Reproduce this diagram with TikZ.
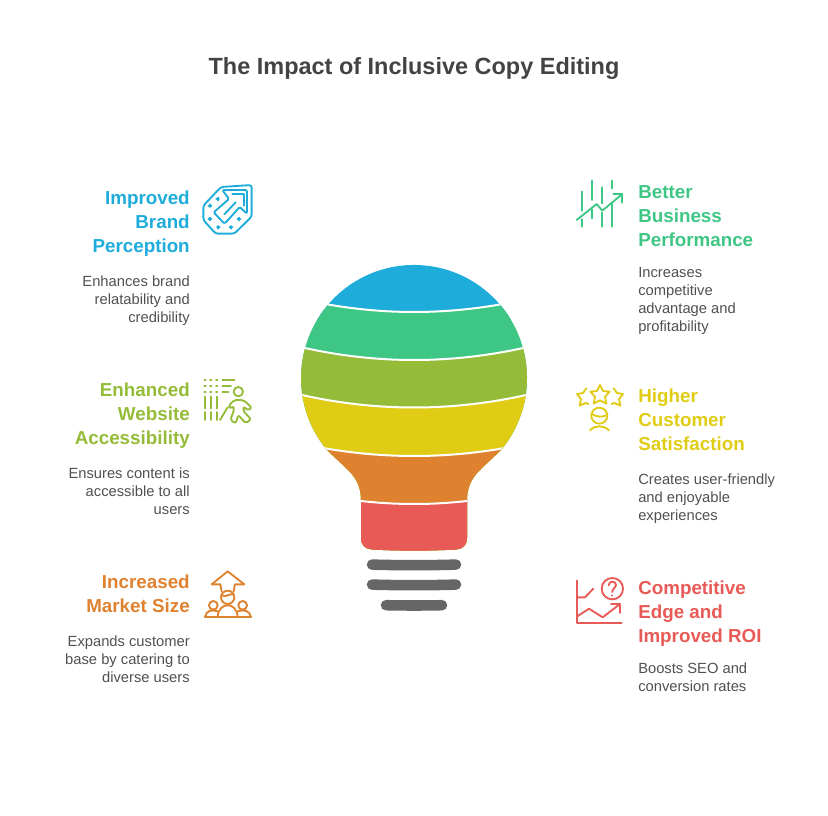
\documentclass[tikz,border=0pt]{standalone}
\usepackage{fontspec}
\setmainfont{Liberation Sans}
\definecolor{bulbblue}{RGB}{30, 172, 219}
\definecolor{bulbgreen}{RGB}{62, 198, 132}
\definecolor{bulbolive}{RGB}{148, 188, 56}
\definecolor{bulbyellow}{RGB}{224, 204, 20}
\definecolor{bulborange}{RGB}{223, 130, 48}
\definecolor{bulbred}{RGB}{232, 90, 86}
\definecolor{bulbgray}{RGB}{102, 102, 102}
\definecolor{titlegray}{RGB}{67, 67, 67}
\definecolor{descgray}{RGB}{80, 80, 80}
\tikzset{
  headleft/.style={anchor=north east, align=right, inner sep=0pt, font=\fontsize{14.1}{18}\bfseries\selectfont},
  headright/.style={anchor=north west, align=left, inner sep=0pt, font=\fontsize{14.1}{18}\bfseries\selectfont},
  descleft/.style={anchor=north east, align=right, inner sep=0pt, text=descgray, font=\fontsize{11.05}{13.5}\selectfont},
  descright/.style={anchor=north west, align=left, inner sep=0pt, text=descgray, font=\fontsize{11.05}{13.5}\selectfont},
  iconline/.style={line width=1.4pt, line cap=round, line join=round},
  bulbbar/.style={bulbgray, line width=7.9pt, line cap=round}
}
\begin{document}
\begin{tikzpicture}[x=0.75pt, y=-0.75pt]
\useasboundingbox (0,0) rectangle (828,816);
\node[text=titlegray, font=\fontsize{17.6}{22}\bfseries\selectfont] (title) at (414,68) {The Impact of Inclusive Copy Editing};

% bulb
\begin{scope}
\clip (325.8,448.6) .. controls (335,458) and (341,463) .. (349,471) .. controls (358,480) and (361,490) .. (361,500)
  -- (361,538) .. controls (361,545) and (365,549) .. (372,549.5) .. controls (400,551) and (428,551) .. (456,549.5)
  .. controls (463,549) and (467,545) .. (467,538) -- (467,500) .. controls (467,490) and (470,480) .. (479,471)
  .. controls (487,463) and (493,458) .. (502.2,448.6) arc[start angle=38.7, end angle=-218.7, radius=113];
\fill[bulbblue] (280,250) rectangle (550,320);
\foreach \bandcol/\hw/\yedge/\ymid in {bulbgreen/95/302.8/312, bulbolive/120/345.5/360, bulbyellow/122/392.7/407.5, bulborange/97/446.9/456, bulbred/58/500.4/504} {
  \pgfmathsetmacro{\yctrl}{\yedge+4/3*(\ymid-\yedge)}
  \fill[\bandcol] (414-\hw,\yedge) .. controls (414-\hw/3,\yctrl) and (414+\hw/3,\yctrl) .. (414+\hw,\yedge) -- (560,\yedge) -- (560,560) -- (270,560) -- (270,\yedge) -- cycle;
  \draw[white, line width=1.5pt] (414-\hw,\yedge) .. controls (414-\hw/3,\yctrl) and (414+\hw/3,\yctrl) .. (414+\hw,\yedge);
}
\end{scope}
\draw[bulbbar] (372,564.6) .. controls (400,565.4) and (428,565.4) .. (456,564.6);
\draw[bulbbar] (372,584.6) .. controls (400,585.4) and (428,585.4) .. (456,584.6);
\draw[bulbbar] (386,605.2) .. controls (405,605.6) and (423,605.6) .. (442,605.2);

% left side
\node[headleft, text=bulbblue] (brand) at (190,191) {Improved\\Brand\\Perception};
\node[descleft] (branddesc) at (190,276) {Enhances brand\\relatability and\\credibility};
\node[headleft, text=bulbolive] (website) at (190,383) {Enhanced\\Website\\Accessibility};
\node[descleft] (websitedesc) at (190,468) {Ensures content is\\accessible to all\\users};
\node[headleft, text=bulborange] (market) at (190,575) {Increased\\Market Size};
\node[descleft] (marketdesc) at (190,636) {Expands customer\\base by catering to\\diverse users};

% right side
\node[headright, text=bulbgreen] (business) at (638,185) {Better\\Business\\Performance};
\node[descright] (businessdesc) at (638,267) {Increases\\competitive\\advantage and\\profitability};
\node[headright, text=bulbyellow] (customer) at (638,389) {Higher\\Customer\\Satisfaction};
\node[descright] (customerdesc) at (638,474) {Creates user-friendly\\and enjoyable\\experiences};
\node[headright, text=bulbred] (edge) at (638,581) {Competitive\\Edge and\\Improved ROI};
\node[descright] (edgedesc) at (638,663) {Boosts SEO and\\conversion rates};

% icon brand
\begin{scope}[shift={(195,175)}, scale=1/3, bulbblue, iconline]
\draw[rounded corners=2pt] (25,92) -- (78,36) -- (170,30) -- (170,125) -- (118,176) -- (62,176) -- (25,135) -- cycle;
\draw[rounded corners=1pt] (82,45) -- (156,45) -- (156,116) -- (134,96) -- (100,134) -- (88,146) -- (56,112) -- (102,72) -- cycle;
\draw (112,56) -- (148,56) -- (148,92);
\draw (122,82) -- (88,118);
\foreach \sx/\sy in {68/72, 45/92, 45/132, 70/157, 108/157, 132/132} {
  \draw (\sx-4,\sy) -- (\sx+4,\sy) (\sx,\sy-4) -- (\sx,\sy+4);
}
\end{scope}

% icon website
\begin{scope}[shift={(195,370)}, scale=1/3, bulbolive, iconline]
\foreach \gx in {30,47,65} {
  \foreach \gy in {30,48,65} {
    \draw (\gx-2,\gy) -- (\gx+2,\gy);
  }
  \draw (\gx,80) -- (\gx,115);
  \draw (\gx,126) -- (\gx,150);
}
\draw (82,30) -- (118,30);
\draw (82,48) -- (108,48);
\draw (82,65) -- (100,65);
\draw (130,65) circle (14);
\draw[rounded corners=1.5pt] (100,108) -- (118,90) -- (145,90) -- (170,112) -- (160,122) -- (146,110) -- (144,122) -- (168,148) -- (152,160) -- (130,135) -- (122,160) -- (106,150) -- (118,118) -- (114,108) -- (106,116) -- cycle;
\draw (98,112) -- (75,150);
\end{scope}

% icon market
\begin{scope}[shift={(195,562)}, scale=1/3, bulborange, iconline]
\draw (80,88) -- (76,67) -- (50,67) -- (98,28) -- (148,67) -- (120,67) -- (116,88);
\draw (98,106) circle (20);
\draw (80,100) .. controls (92,108) and (106,92) .. (116,98);
\draw (55,130) circle (13);
\draw (143,130) circle (13);
\draw (68,165) .. controls (70,118) and (126,118) .. (128,165);
\draw (30,165) .. controls (34,145) and (50,142) .. (68,148);
\draw (168,165) .. controls (164,145) and (146,142) .. (128,148);
\draw (30,165) -- (168,165);
\end{scope}

% icon business
\begin{scope}[shift={(565,170)}, scale=1/3, bulbgreen, iconline]
\draw (52,65) -- (52,122);
\draw (52,148) -- (52,170);
\draw (82,32) -- (82,90);
\draw (82,118) -- (82,145);
\draw (112,52) -- (112,100);
\draw (112,128) -- (112,170);
\draw (142,32) -- (142,55);
\draw (142,100) -- (142,170);
\draw (35,150) -- (95,102) -- (112,122) -- (172,72);
\draw (145,72) -- (172,72) -- (172,98);
\end{scope}

% icon customer
\begin{scope}[shift={(565,375)}, scale=1/3, bulbyellow, iconline]
\draw (105,30) -- (114,48) -- (134,50) -- (120,65) -- (124,86) -- (105,76) -- (86,86) -- (90,65) -- (76,50) -- (96,48) -- cycle;
\draw (64,40) -- (54,54) -- (36,57) -- (48,72) -- (44,92) -- (62,84) -- (70,87);
\draw (146,40) -- (156,54) -- (174,57) -- (162,72) -- (166,92) -- (148,84) -- (140,87);
\draw (103,122) circle (24);
\draw (80,116) .. controls (92,126) and (112,128) .. (126,120);
\draw (75,166) .. controls (90,150) and (116,150) .. (132,166);
\end{scope}

% icon edge
\begin{scope}[shift={(565,568)}, scale=1/3, bulbred, iconline]
\draw (37,38) -- (37,165) -- (170,165);
\draw (37,88) -- (60,88) -- (85,62);
\draw (142,62) circle (32);
\draw (131,52) .. controls (132,36) and (154,38) .. (153,52) .. controls (152,62) and (142,60) .. (142,72);
\draw (142,82) -- (142,83);
\draw (37,145) -- (72,122) -- (113,148) -- (165,108);
\draw (138,108) -- (165,108) -- (165,135);
\end{scope}
\end{tikzpicture}
\end{document}
